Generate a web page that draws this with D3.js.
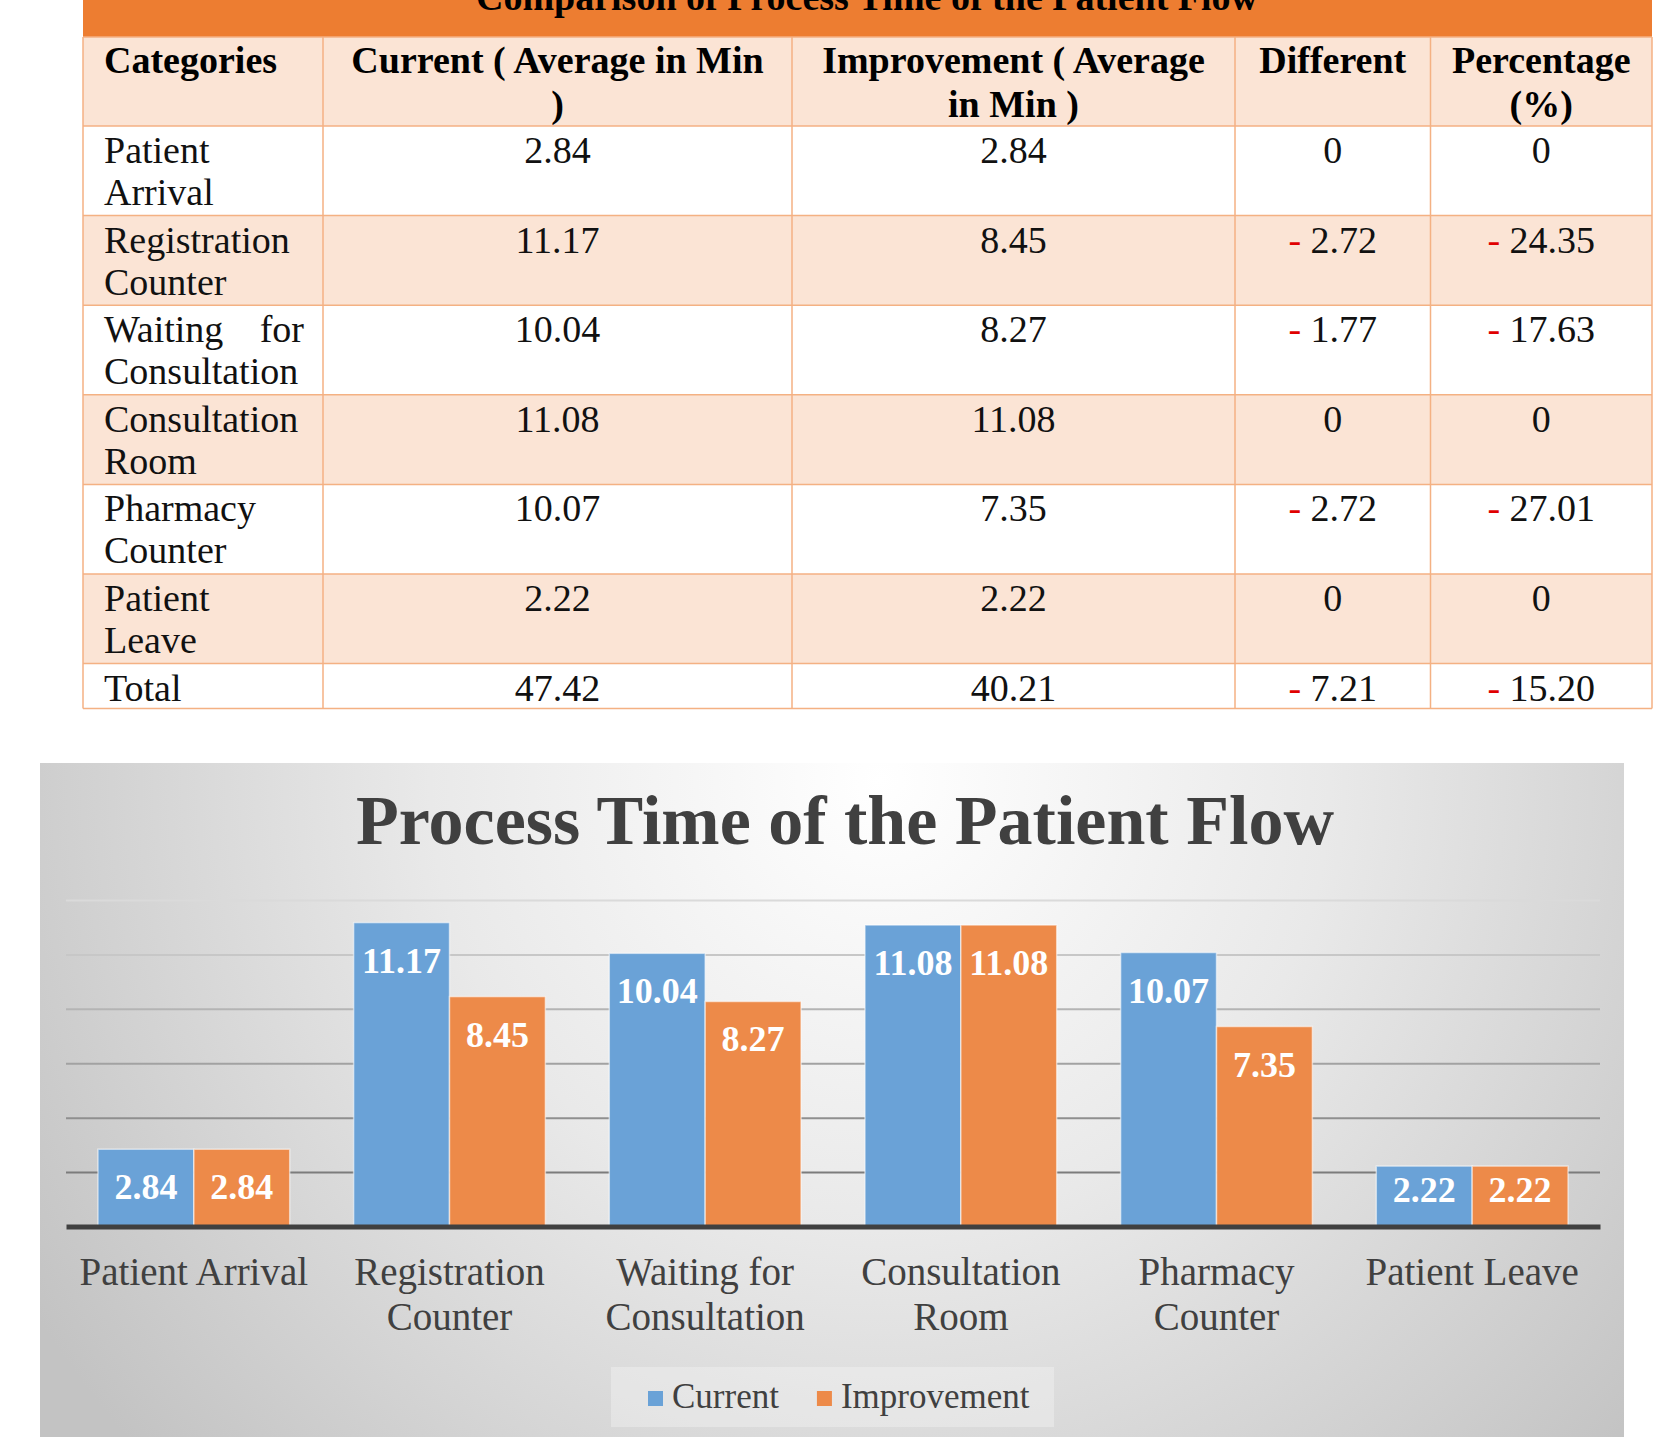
<!DOCTYPE html>
<html>
<head>
<meta charset="utf-8">
<style>
  body { margin: 0; background: #fff; }
  svg { display: block; }
  text { font-family: "Liberation Serif", "Times New Roman", serif; }
</style>
</head>
<body>
<svg width="1679" height="1452"></svg>
<script src="https://d3js.org/d3.v7.min.js"></script>
<script>
  // ---- data ----
  var categories = ["Patient Arrival", "Registration Counter", "Waiting for Consultation",
                    "Consultation Room", "Pharmacy Counter", "Patient Leave"];
  var series = ["Current", "Improvement"];
  var current = [2.84, 11.17, 10.04, 11.08, 10.07, 2.22];
  var improvement = [2.84, 8.45, 8.27, 11.08, 7.35, 2.22];
  var currentTotal = 47.42;
  var improvementTotal = 40.21;
  var different = [0, -2.72, -1.77, 0, -2.72, 0, -7.21];
  var percentage = [0, -24.35, -17.63, 0, -27.01, 0, -15.20];
  var headers = ["Categories", "Current ( Average in Min )", "Improvement ( Average in Min )",
                 "Different", "Percentage (%)"];
  var tableTitle = "Comparison of Process Time of the Patient Flow";
  var chartTitle = "Process Time of the Patient Flow";
  var yTicks = [0, 2, 4, 6, 8, 10, 12];

  var svg = d3.select("svg");
  var defs = svg.append("defs");

  // helper: split a string into lines that fit maxW
  function wrapLines(str, maxW, font) {
    var probe = svg.append("text").style("font", font);
    var words = str.split(" "), lines = [], line = "";
    words.forEach(function(w) {
      var t = line ? line + " " + w : w;
      probe.text(t);
      if (probe.node().getComputedTextLength() > maxW && line) {
        lines.push(line);
        line = w;
      } else {
        line = t;
      }
    });
    lines.push(line);
    probe.remove();
    return lines;
  }
  function textW(str, font) {
    var probe = svg.append("text").style("font", font).text(str);
    var w = probe.node().getComputedTextLength();
    probe.remove();
    return w;
  }

  // ---- table ----
  var colX = [83, 323, 792, 1235, 1430.5, 1652];
  var pad = 20;
  var bodyFont = "38px 'Liberation Serif'";
  var headFont = "bold 38px 'Liberation Serif'";
  var borderCol = "#f4b183", peach = "#fbe4d5";

  var rows = categories.concat(["Total"]).map(function(c, i) {
    return {
      cat: c,
      cur: i < categories.length ? current[i] : currentTotal,
      imp: i < categories.length ? improvement[i] : improvementTotal,
      diff: different[i],
      pct: percentage[i]
    };
  });
  var rowTop = d3.scaleLinear().domain([0, 1]).range([126, 215.6]);
  var table = svg.append("g");

  table.append("rect").attr("x", colX[0]).attr("y", 0)
    .attr("width", colX[5] - colX[0]).attr("height", 37).attr("fill", "#ed7d31");
  // the source image crops this caption at its top edge
  table.append("text").attr("x", 867).attr("y", 10).attr("text-anchor", "middle")
    .style("font", headFont).attr("fill", "#000").text(tableTitle);

  // header row
  table.append("rect").attr("x", colX[0]).attr("y", 37)
    .attr("width", colX[5] - colX[0]).attr("height", 89).attr("fill", peach);
  headers.forEach(function(h, j) {
    var lines = wrapLines(h, colX[j + 1] - colX[j] - 2 * pad, headFont);
    var t = table.append("text").style("font", headFont).attr("fill", "#000")
      .attr("text-anchor", j === 0 ? "start" : "middle");
    lines.forEach(function(l, k) {
      t.append("tspan")
        .attr("x", j === 0 ? colX[0] + 21 : (colX[j] + colX[j + 1]) / 2)
        .attr("y", 73 + k * 44).text(l);
    });
  });

  rows.forEach(function(r, i) {
    var top = rowTop(i), h = i < categories.length ? 89.6 : 45;
    table.append("rect").attr("x", colX[0]).attr("y", top)
      .attr("width", colX[5] - colX[0]).attr("height", h)
      .attr("fill", i % 2 === 1 ? peach : "#fff");
    // category cell, justified like the source
    var avail = colX[1] - colX[0] - 2 * pad;
    var lines = wrapLines(r.cat, avail, bodyFont);
    lines.forEach(function(l, k) {
      var yy = top + 37 + k * 42;
      var words = l.split(" ");
      if (k < lines.length - 1 && words.length > 1) {
        var ws = words.map(function(w) { return textW(w, bodyFont); });
        var gap = (avail - d3.sum(ws)) / (words.length - 1);
        var xx = colX[0] + 21;
        words.forEach(function(w, m) {
          table.append("text").attr("x", xx).attr("y", yy).style("font", bodyFont)
            .attr("fill", "#111").text(w);
          xx += ws[m] + gap;
        });
      } else {
        table.append("text").attr("x", colX[0] + 21).attr("y", yy).style("font", bodyFont)
          .attr("fill", "#111").text(l);
      }
    });
    [r.cur, r.imp, r.diff, r.pct].forEach(function(v, j) {
      var t = table.append("text").attr("x", (colX[j + 1] + colX[j + 2]) / 2)
        .attr("y", top + 37).attr("text-anchor", "middle")
        .style("font", bodyFont).attr("fill", "#111");
      if (j < 2) {
        t.text(v.toFixed(2));
      } else if (v === 0) {
        t.text("0");
      } else {
        t.append("tspan").attr("fill", "#e00000").text("-");
        t.append("tspan").text(" " + Math.abs(v).toFixed(2));
      }
    });
  });
  // borders
  var tableBottom = rowTop(categories.length) + 45;
  var hLines = [37, 126].concat(d3.range(1, rows.length + 1).map(function(i) {
    return i < rows.length ? rowTop(i) : tableBottom;
  }));
  table.selectAll(".hl").data(hLines).enter().append("line")
    .attr("x1", colX[0]).attr("x2", colX[5])
    .attr("y1", function(d) { return d; }).attr("y2", function(d) { return d; })
    .attr("stroke", borderCol).attr("stroke-width", 1.5);
  table.selectAll(".vl").data(colX).enter().append("line")
    .attr("x1", function(d) { return d; }).attr("x2", function(d) { return d; })
    .attr("y1", 37).attr("y2", tableBottom)
    .attr("stroke", borderCol).attr("stroke-width", 1.5);

  // ---- chart ----
  var bg = defs.append("radialGradient").attr("id", "bg")
    .attr("gradientUnits", "userSpaceOnUse")
    .attr("cx", 880).attr("cy", 780).attr("r", 1000);
  bg.append("stop").attr("offset", "0").attr("stop-color", "#ffffff");
  bg.append("stop").attr("offset", "0.45").attr("stop-color", "#e9e9e9");
  bg.append("stop").attr("offset", "1").attr("stop-color", "#c3c3c3");

  svg.append("rect").attr("x", 40).attr("y", 763).attr("width", 1584).attr("height", 674)
    .attr("fill", "url(#bg)");

  svg.append("text").attr("x", 845).attr("y", 844).attr("text-anchor", "middle")
    .style("font", "bold 70px 'Liberation Serif'").attr("fill", "#404040").text(chartTitle);

  var x0 = d3.scaleBand().domain(categories).range([66, 1600])
    .paddingInner(0.25).paddingOuter(0.125);
  var x1 = d3.scaleBand().domain(series).range([0, x0.bandwidth()]);
  var y = d3.scaleLinear().domain([0, 12]).range([1226.5, 900]);
  var color = d3.scaleOrdinal().domain(series).range(["#6aa2d7", "#ed8a49"]);
  var gridCol = d3.scaleLinear().domain([2, 12]).range(["#7c7c7c", "#dadada"]);

  var grid = svg.append("g").attr("transform", "translate(66,0)")
    .call(d3.axisLeft(y).tickValues(yTicks.slice(1)).tickSize(-(1600 - 66)).tickFormat(""));
  grid.select(".domain").remove();
  grid.selectAll(".tick line")
    .attr("stroke", function(d) { return gridCol(d); }).attr("stroke-width", 2);

  var values = { Current: current, Improvement: improvement };
  var groups = svg.append("g").selectAll("g").data(categories).enter().append("g")
    .attr("transform", function(d) { return "translate(" + x0(d) + ",0)"; });
  var bars = groups.selectAll("g").data(function(d, i) {
    return series.map(function(s) { return { key: s, value: values[s][i] }; });
  }).enter().append("g");
  bars.append("rect")
    .attr("x", function(d) { return x1(d.key); })
    .attr("y", function(d) { return y(d.value); })
    .attr("width", x1.bandwidth())
    .attr("height", function(d) { return y(0) - y(d.value); })
    .attr("fill", function(d) { return color(d.key); })
    .attr("stroke", "rgba(255,255,255,0.55)").attr("stroke-width", 1.5);
  // inside-end labels, kept clear of the axis on short bars
  bars.append("text")
    .attr("x", function(d) { return x1(d.key) + x1.bandwidth() / 2; })
    .attr("y", function(d) { return Math.min(y(d.value) + 50, y(0) - 25); })
    .attr("text-anchor", "middle")
    .style("font", "bold 36px 'Liberation Serif'").attr("fill", "#fff")
    .text(function(d) { return d.value.toFixed(2); });

  var xAxis = svg.append("g").attr("transform", "translate(0," + y(0) + ")")
    .call(d3.axisBottom(x0).tickSize(0).tickSizeOuter(0));
  xAxis.select(".domain").attr("stroke", "#404040").attr("stroke-width", 5);
  var labFont = "39px 'Liberation Serif'";
  xAxis.selectAll(".tick text").each(function(d) {
    var t = d3.select(this).text("").attr("dy", null).attr("y", null)
      .style("font", labFont).attr("fill", "#404040");
    wrapLines(d, 250, labFont).forEach(function(l, k) {
      t.append("tspan").attr("x", 0).attr("y", 58.5 + k * 45).text(l);
    });
  });

  // legend
  var legFont = "35px 'Liberation Serif'";
  svg.append("rect").attr("x", 611).attr("y", 1367).attr("width", 443).attr("height", 60)
    .attr("fill", "#f6f6f6").attr("opacity", 0.4);
  var lx = 648;
  series.forEach(function(s) {
    svg.append("rect").attr("x", lx).attr("y", 1391).attr("width", 15).attr("height", 15)
      .attr("fill", color(s));
    svg.append("text").attr("x", lx + 24).attr("y", 1408).style("font", legFont)
      .attr("fill", "#404040").text(s);
    lx += 24 + textW(s, legFont) + 38;
  });
</script>
</body>
</html>
